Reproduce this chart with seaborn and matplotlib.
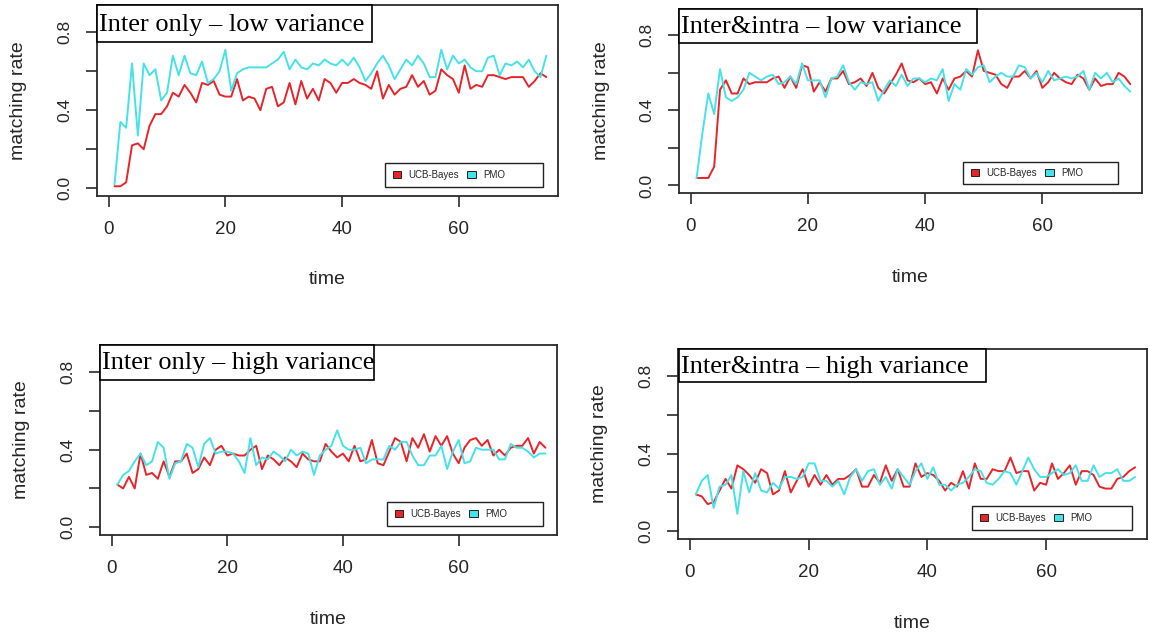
import pandas as pd
import matplotlib.pyplot as plt
import seaborn as sns
from matplotlib.patches import Patch, Rectangle

# ==================== data ====================
time = list(range(1, 76))

ucb_inter_low = [0.01, 0.01, 0.03, 0.22, 0.23, 0.20, 0.32, 0.38, 0.38, 0.42,
                 0.49, 0.47, 0.53, 0.49, 0.44, 0.54, 0.53, 0.55, 0.48, 0.47,
                 0.47, 0.56, 0.45, 0.47, 0.46, 0.40, 0.51, 0.52, 0.42, 0.44,
                 0.54, 0.43, 0.55, 0.46, 0.51, 0.45, 0.56, 0.54, 0.49, 0.54,
                 0.54, 0.56, 0.54, 0.53, 0.51, 0.60, 0.46, 0.53, 0.48, 0.51,
                 0.52, 0.58, 0.52, 0.55, 0.48, 0.50, 0.61, 0.58, 0.56, 0.49,
                 0.63, 0.51, 0.53, 0.52, 0.58, 0.58, 0.57, 0.56, 0.57, 0.57,
                 0.57, 0.52, 0.55, 0.59, 0.57]
pmo_inter_low = [0.02, 0.34, 0.31, 0.64, 0.27, 0.64, 0.58, 0.61, 0.45, 0.49,
                 0.68, 0.58, 0.68, 0.59, 0.58, 0.65, 0.54, 0.56, 0.60, 0.71,
                 0.50, 0.59, 0.61, 0.62, 0.62, 0.62, 0.62, 0.64, 0.66, 0.70,
                 0.61, 0.66, 0.62, 0.61, 0.64, 0.63, 0.66, 0.64, 0.63, 0.66,
                 0.63, 0.67, 0.62, 0.55, 0.59, 0.64, 0.68, 0.63, 0.56, 0.61,
                 0.66, 0.63, 0.68, 0.64, 0.57, 0.57, 0.71, 0.61, 0.68, 0.64,
                 0.66, 0.62, 0.60, 0.60, 0.67, 0.68, 0.58, 0.64, 0.63, 0.65,
                 0.62, 0.66, 0.60, 0.57, 0.68]

ucb_intra_low = [0.04, 0.04, 0.04, 0.10, 0.51, 0.56, 0.49, 0.49, 0.57, 0.54,
                 0.55, 0.55, 0.55, 0.57, 0.58, 0.52, 0.58, 0.52, 0.64, 0.63,
                 0.50, 0.55, 0.50, 0.57, 0.57, 0.61, 0.54, 0.55, 0.57, 0.53,
                 0.60, 0.52, 0.49, 0.54, 0.59, 0.65, 0.56, 0.55, 0.57, 0.54,
                 0.55, 0.49, 0.57, 0.51, 0.57, 0.58, 0.61, 0.58, 0.72, 0.61,
                 0.60, 0.59, 0.54, 0.52, 0.58, 0.58, 0.61, 0.57, 0.61, 0.52,
                 0.55, 0.60, 0.57, 0.55, 0.54, 0.59, 0.57, 0.51, 0.57, 0.53,
                 0.54, 0.54, 0.60, 0.58, 0.54]
pmo_intra_low = [0.04, 0.28, 0.49, 0.38, 0.62, 0.47, 0.45, 0.47, 0.51, 0.60,
                 0.58, 0.56, 0.58, 0.59, 0.54, 0.55, 0.58, 0.54, 0.65, 0.56,
                 0.56, 0.56, 0.47, 0.57, 0.58, 0.64, 0.55, 0.51, 0.55, 0.54,
                 0.55, 0.45, 0.51, 0.56, 0.53, 0.59, 0.53, 0.57, 0.57, 0.55,
                 0.57, 0.56, 0.62, 0.45, 0.54, 0.51, 0.62, 0.59, 0.63, 0.64,
                 0.55, 0.58, 0.60, 0.58, 0.58, 0.64, 0.63, 0.57, 0.60, 0.55,
                 0.61, 0.56, 0.57, 0.58, 0.57, 0.58, 0.61, 0.51, 0.60, 0.57,
                 0.60, 0.55, 0.57, 0.53, 0.50]

ucb_inter_high = [0.22, 0.20, 0.26, 0.20, 0.38, 0.27, 0.28, 0.25, 0.34, 0.26,
                  0.34, 0.34, 0.38, 0.28, 0.30, 0.36, 0.32, 0.40, 0.42, 0.37,
                  0.38, 0.37, 0.37, 0.40, 0.42, 0.30, 0.37, 0.35, 0.32, 0.36,
                  0.34, 0.31, 0.38, 0.35, 0.34, 0.34, 0.43, 0.39, 0.36, 0.38,
                  0.34, 0.42, 0.34, 0.35, 0.45, 0.33, 0.32, 0.39, 0.46, 0.44,
                  0.34, 0.46, 0.41, 0.48, 0.39, 0.47, 0.42, 0.47, 0.38, 0.33,
                  0.41, 0.45, 0.46, 0.42, 0.45, 0.37, 0.40, 0.37, 0.41, 0.42,
                  0.42, 0.46, 0.38, 0.44, 0.41]
pmo_inter_high = [0.22, 0.27, 0.29, 0.34, 0.38, 0.32, 0.34, 0.44, 0.41, 0.25,
                  0.33, 0.34, 0.43, 0.41, 0.31, 0.43, 0.46, 0.38, 0.39, 0.39,
                  0.38, 0.34, 0.28, 0.46, 0.32, 0.36, 0.35, 0.39, 0.37, 0.34,
                  0.40, 0.37, 0.39, 0.38, 0.27, 0.37, 0.40, 0.42, 0.50, 0.42,
                  0.40, 0.40, 0.41, 0.33, 0.35, 0.35, 0.35, 0.42, 0.40, 0.44,
                  0.44, 0.37, 0.32, 0.32, 0.37, 0.37, 0.42, 0.30, 0.39, 0.45,
                  0.33, 0.34, 0.41, 0.40, 0.40, 0.40, 0.35, 0.35, 0.43, 0.41,
                  0.41, 0.39, 0.36, 0.38, 0.38]

ucb_intra_high = [0.19, 0.18, 0.14, 0.15, 0.21, 0.27, 0.22, 0.34, 0.32, 0.29,
                  0.25, 0.32, 0.30, 0.19, 0.21, 0.31, 0.20, 0.26, 0.32, 0.23,
                  0.29, 0.24, 0.29, 0.24, 0.27, 0.27, 0.29, 0.32, 0.23, 0.23,
                  0.29, 0.25, 0.34, 0.26, 0.32, 0.23, 0.23, 0.35, 0.28, 0.30,
                  0.29, 0.26, 0.21, 0.25, 0.23, 0.31, 0.22, 0.35, 0.27, 0.27,
                  0.32, 0.31, 0.31, 0.38, 0.30, 0.31, 0.31, 0.21, 0.25, 0.24,
                  0.35, 0.27, 0.30, 0.34, 0.24, 0.31, 0.31, 0.29, 0.23, 0.22,
                  0.22, 0.27, 0.28, 0.31, 0.33]
pmo_intra_high = [0.19, 0.26, 0.29, 0.12, 0.23, 0.24, 0.29, 0.09, 0.31, 0.20,
                  0.30, 0.21, 0.20, 0.25, 0.22, 0.28, 0.28, 0.27, 0.28, 0.35,
                  0.35, 0.26, 0.26, 0.23, 0.26, 0.19, 0.28, 0.32, 0.26, 0.31,
                  0.32, 0.24, 0.28, 0.22, 0.32, 0.28, 0.24, 0.31, 0.35, 0.27,
                  0.33, 0.24, 0.24, 0.21, 0.24, 0.25, 0.28, 0.32, 0.31, 0.25,
                  0.24, 0.27, 0.31, 0.30, 0.24, 0.31, 0.38, 0.32, 0.28, 0.28,
                  0.30, 0.32, 0.29, 0.30, 0.34, 0.26, 0.26, 0.34, 0.28, 0.30,
                  0.30, 0.32, 0.26, 0.26, 0.28]

titles = ['Inter only \u2013 low variance', 'Inter&intra \u2013 low variance',
          'Inter only \u2013 high variance', 'Inter&intra \u2013 high variance']
methods = ['UCB-Bayes', 'PMO']
x_ticks = [0, 20, 40, 60]
y_ticks = [0.0, 0.2, 0.4, 0.6, 0.8]
y_tick_labels = ['0.0', '', '0.4', '', '0.8']

series = [(ucb_inter_low, pmo_inter_low), (ucb_intra_low, pmo_intra_low),
          (ucb_inter_high, pmo_inter_high), (ucb_intra_high, pmo_intra_high)]

# ==================== style ====================
sns.set_style('ticks')
plt.rcParams['font.family'] = ['Liberation Sans', 'DejaVu Sans']
palette = {'UCB-Bayes': '#e8242b', 'PMO': '#45e2e8'}
W, H = 1150, 636

fig = plt.figure(figsize=(W / 100, H / 100), dpi=100)


def px_rect(x0, y0, x1, y1):
    # pixel box (top-left origin) -> figure fraction
    return [x0 / W, 1 - y1 / H, (x1 - x0) / W, (y1 - y0) / H]


# pixel boxes: axes, title box, legend box
axes_px = [(97, 5, 558, 196), (679, 9, 1142, 193),
           (100, 345, 557, 535), (678, 349, 1147, 539)]
title_px = [(97, 5, 372, 42), (679, 9, 977, 43),
            (100, 345, 374, 380), (679, 349, 986, 382)]
legend_px = [(385, 163, 543, 187), (963, 162, 1118, 184),
             (387, 502, 543, 526), (972, 506, 1132, 530)]

for i in range(4):
    ucb, pmo = series[i]
    df = pd.DataFrame({'time': time + time,
                       'rate': ucb + pmo,
                       'method': ['UCB-Bayes'] * len(time) + ['PMO'] * len(time)})

    ax = fig.add_axes(px_rect(*axes_px[i]))
    sns.lineplot(data=df, x='time', y='rate', hue='method', hue_order=methods,
                 palette=palette, linewidth=1.4, legend=False, ax=ax)

    ax.set_xlim(-2, 77)
    ax.set_ylim(-0.04, 0.94)
    ax.set_xticks(x_ticks)
    ax.set_xticklabels([str(t) for t in x_ticks], fontsize=13.5)
    ax.set_yticks(y_ticks)
    ax.set_yticklabels(y_tick_labels, fontsize=12.5, rotation=90, va='center')
    ax.tick_params(length=8, width=1.2, color='#2a2a2a', pad=10)

    for sp in ax.spines.values():
        sp.set_visible(True)
        sp.set_linewidth(1.3)
        sp.set_color('#2a2a2a')

    x0, y0, x1, y1 = axes_px[i]
    ax.set_xlabel('time', fontsize=14, va='center')
    ax.xaxis.set_label_coords(0.5, -84 / (y1 - y0))
    ax.set_ylabel('matching rate', fontsize=14, va='center')
    ax.yaxis.set_label_coords(-78 / (x1 - x0), 0.5)

    # title box
    tx0, ty0, tx1, ty1 = title_px[i]
    fig.add_artist(Rectangle((tx0 / W, 1 - ty1 / H), (tx1 - tx0) / W, (ty1 - ty0) / H,
                             transform=fig.transFigure, facecolor='white',
                             edgecolor='black', linewidth=1.2, zorder=5))
    fig.text((tx0 + 2) / W, 1 - ((ty0 + ty1) / 2 + 1) / H, titles[i],
             family=['Liberation Serif', 'DejaVu Serif'], fontsize=19,
             color='black', ha='left', va='center', zorder=6)

    # legend box
    lx0, ly0, lx1, ly1 = legend_px[i]
    fig.add_artist(Rectangle((lx0 / W, 1 - ly1 / H), (lx1 - lx0) / W, (ly1 - ly0) / H,
                             transform=fig.transFigure, facecolor='white',
                             edgecolor='#222222', linewidth=1.0, zorder=5))
    handles = [Patch(facecolor=palette[m], edgecolor='#222222', linewidth=0.7) for m in methods]
    leg = fig.legend(handles, methods, loc='center left', ncol=2, frameon=False,
                     bbox_to_anchor=((lx0 + 8) / W, 1 - (ly0 + ly1) / 2 / H),
                     bbox_transform=fig.transFigure, borderpad=0, borderaxespad=0,
                     fontsize=7, handlelength=0.85, handleheight=0.7,
                     handletextpad=0.75, columnspacing=0.85)
    leg.set_zorder(7)

fig.savefig('out.png', dpi=100, facecolor='white')
